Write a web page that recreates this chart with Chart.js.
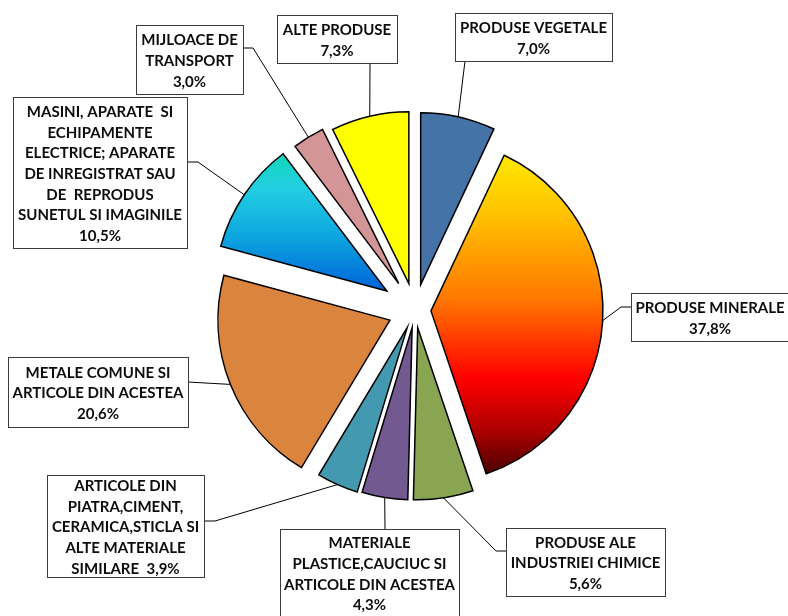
<!DOCTYPE html>
<html>
<head>
<meta charset="utf-8">
<script src="https://cdn.jsdelivr.net/npm/chart.js@4.4.1/dist/chart.umd.min.js"></script>
<style>
    html, body { margin: 0; padding: 0; background: #fff; }
    #wrap { width: 788px; height: 616px; }
</style>
</head>
<body>
<div id="wrap"><canvas id="pieChart" width="788" height="616"></canvas></div>
<script>
// Structura pe grupe de produse (%)
const categories = [
    'PRODUSE VEGETALE',
    'PRODUSE MINERALE',
    'PRODUSE ALE INDUSTRIEI CHIMICE',
    'MATERIALE PLASTICE,CAUCIUC SI ARTICOLE DIN ACESTEA',
    'ARTICOLE DIN PIATRA,CIMENT, CERAMICA,STICLA SI ALTE MATERIALE SIMILARE',
    'METALE COMUNE SI ARTICOLE DIN ACESTEA',
    'MASINI, APARATE SI ECHIPAMENTE ELECTRICE; APARATE DE INREGISTRAT SAU DE REPRODUS SUNETUL SI IMAGINILE',
    'MIJLOACE DE TRANSPORT',
    'ALTE PRODUSE'
];

// label text as it is wrapped in the boxes
const labelLines = [
    ['PRODUSE VEGETALE'],
    ['PRODUSE MINERALE'],
    ['PRODUSE ALE', 'INDUSTRIEI CHIMICE'],
    ['MATERIALE', 'PLASTICE,CAUCIUC SI', 'ARTICOLE DIN ACESTEA'],
    ['ARTICOLE DIN', 'PIATRA,CIMENT,', 'CERAMICA,STICLA SI', 'ALTE MATERIALE', 'SIMILARE'],
    ['METALE COMUNE SI', 'ARTICOLE DIN ACESTEA'],
    ['MASINI, APARATE  SI', 'ECHIPAMENTE', 'ELECTRICE; APARATE', 'DE INREGISTRAT SAU', 'DE  REPRODUS', 'SUNETUL SI IMAGINILE'],
    ['MIJLOACE DE', 'TRANSPORT'],
    ['ALTE PRODUSE']
];

// percent written on the same line as the last text line
const pctInline = [false, false, false, false, true, false, false, false, false];

const shares = [7.0, 37.8, 5.6, 4.3, 3.9, 20.6, 10.5, 3.0, 7.3];

const sliceColors = ['#4572A7', '#FF7A00', '#8AA551', '#725A91', '#4299B0', '#DB843D', '#14A6E0', '#D39595', '#FFFF00'];

const mineraleStops = [[0, '#FFE800'], [0.18, '#FFC400'], [0.45, '#FF7800'], [0.70, '#FF0000'], [0.86, '#B00000'], [1, '#4A0000']];
const masiniStops = [[0, '#10D6B8'], [0.25, '#22CFE2'], [0.6, '#0DA6E0'], [1, '#0064D8']];
const sliceGradients = [null, mineraleStops, null, null, null, null, masiniStops, null, null];

// how far each slice is pulled out of the pie
const explode = [26, 16, 18, 18, 19, 27, 34, 31, 27];

// label boxes [x, y, w, h] and leader path from box towards the slice
const labelLayout = [
    { box: [455, 13, 157, 48],  path: [[465, 61]] },
    { box: [631, 293, 158, 48], path: [[631, 307], [621, 307]] },
    { box: [506, 528, 159, 68], path: [[506, 551], [496, 551]] },
    { box: [280, 529, 179, 88], path: [[385, 529]] },
    { box: [47, 475, 157, 102], path: [[204, 521], [215, 521]] },
    { box: [8, 357, 180, 70],   path: [[188, 382]] },
    { box: [13, 97, 174, 151],  path: [[187, 162], [198, 162]] },
    { box: [136, 25, 107, 69],  path: [[243, 48], [253, 48]] },
    { box: [277, 15, 120, 48],  path: [[370, 63]] }
];

const FONT_SIZE = 15;
const LINE_H = 20.7;
const FONT = 'bold ' + FONT_SIZE + 'px Lato, "Open Sans", sans-serif';

function pctText(v) {
    return v.toFixed(1).replace('.', ',') + '%';
}

function sliceCenter(arc) {
    const mid = (arc.startAngle + arc.endAngle) / 2;
    const d = arc.options.offset || 0;
    return { cx: arc.x + Math.cos(mid) * d, cy: arc.y + Math.sin(mid) * d, mid: mid };
}

function angleInside(a, start, end) {
    while (a < start) a += Math.PI * 2;
    return a <= end;
}

function makeGradient(ctx, cx, cy, r, start, end, stops) {
    const ys = [cy, cy + r * Math.sin(start), cy + r * Math.sin(end)];
    if (angleInside(-Math.PI / 2, start, end)) ys.push(cy - r);
    if (angleInside(Math.PI / 2, start, end)) ys.push(cy + r);
    const top = Math.min(...ys), bottom = Math.max(...ys);
    const g = ctx.createLinearGradient(0, top, 0, bottom);
    stops.forEach(s => g.addColorStop(s[0], s[1]));
    return g;
}

// draws the slices pulled out, keeping the same radius for every slice
const explodedSlices = {
    id: 'explodedSlices',
    beforeDatasetDraw(chart, args) {
        const ctx = chart.ctx;
        args.meta.data.forEach((arc, i) => {
            const { cx, cy } = sliceCenter(arc);
            const r = arc.outerRadius;
            ctx.save();
            ctx.beginPath();
            ctx.moveTo(cx, cy);
            ctx.arc(cx, cy, r, arc.startAngle, arc.endAngle);
            ctx.closePath();
            ctx.fillStyle = sliceGradients[i]
                ? makeGradient(ctx, cx, cy, r, arc.startAngle, arc.endAngle, sliceGradients[i])
                : arc.options.backgroundColor;
            ctx.fill();
            ctx.lineWidth = arc.options.borderWidth;
            ctx.strokeStyle = arc.options.borderColor;
            ctx.lineJoin = 'miter';
            ctx.stroke();
            ctx.restore();
        });
        return false;
    }
};

// boxed labels with leader lines
const boxedLabels = {
    id: 'boxedLabels',
    afterDatasetsDraw(chart) {
        const ctx = chart.ctx;
        const meta = chart.getDatasetMeta(0);
        meta.data.forEach((arc, i) => {
            const lay = labelLayout[i];
            const { cx, cy, mid } = sliceCenter(arc);
            const px = cx + Math.cos(mid) * arc.outerRadius;
            const py = cy + Math.sin(mid) * arc.outerRadius;

            // leader line
            ctx.save();
            ctx.strokeStyle = '#000';
            ctx.lineWidth = 1;
            ctx.beginPath();
            ctx.moveTo(px, py);
            for (let k = lay.path.length - 1; k >= 0; k--) {
                ctx.lineTo(lay.path[k][0], lay.path[k][1]);
            }
            ctx.stroke();

            // box
            const [bx, by, bw, bh] = lay.box;
            ctx.fillStyle = '#fff';
            ctx.fillRect(bx, by, bw, bh);
            ctx.strokeStyle = '#3c3c3c';
            ctx.strokeRect(bx + 0.5, by + 0.5, bw, bh);

            // text
            const lines = labelLines[i].slice();
            const pct = pctText(chart.data.datasets[0].data[i]);
            if (pctInline[i]) lines[lines.length - 1] += '  ' + pct;
            else lines.push(pct);
            ctx.font = FONT;
            ctx.fillStyle = '#0d0d0d';
            ctx.textAlign = 'center';
            ctx.textBaseline = 'alphabetic';
            const n = lines.length;
            lines.forEach((t, k) => {
                const center = by + bh / 2 + (k - (n - 1) / 2) * LINE_H + 1;
                ctx.fillText(t, bx + bw / 2, center + FONT_SIZE * 0.36);
            });
            ctx.restore();
        });
    }
};

const pieChart = new Chart(document.getElementById('pieChart'), {
    type: 'pie',
    data: {
        labels: categories,
        datasets: [{
            data: shares,
            backgroundColor: sliceColors,
            borderColor: '#000',
            borderWidth: 1.5,
            offset: explode
        }]
    },
    options: {
        responsive: false,
        animation: false,
        events: [],
        radius: 172,
        layout: {
            padding: { left: 42, top: 4, right: 0, bottom: 0 }
        },
        plugins: {
            legend: { display: false },
            tooltip: { enabled: false }
        }
    },
    plugins: [explodedSlices, boxedLabels]
});
</script>
</body>
</html>
